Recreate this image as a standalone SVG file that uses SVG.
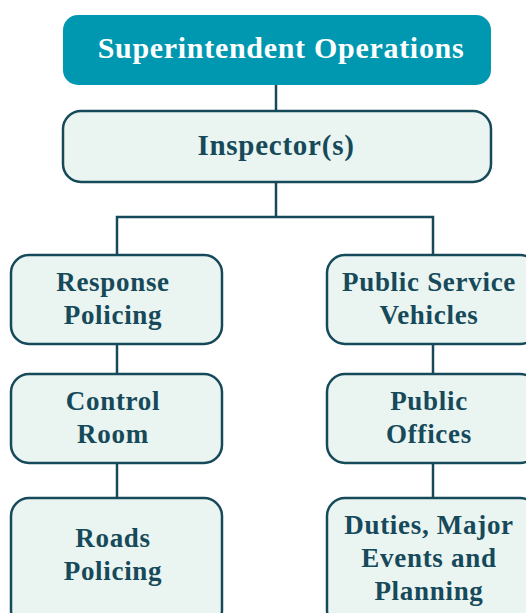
<svg xmlns="http://www.w3.org/2000/svg" width="526" height="613" viewBox="0 0 526 613">
<style>
.box{fill:#eaf4f1;stroke:#164a5a;stroke-width:2.5}
.top{fill:#0098b0}
.t{font-family:"Liberation Serif","Times New Roman",serif;font-weight:bold;fill:#164a5a;text-anchor:middle;font-size:27px;letter-spacing:0.7px}
.tw{font-family:"Liberation Serif","Times New Roman",serif;font-weight:bold;fill:#ffffff;text-anchor:middle;font-size:30px;letter-spacing:0.7px}
.c{stroke:#164a5a;stroke-width:2.5;fill:none}
</style>
<rect width="526" height="613" fill="#ffffff"/>
<g id="connectors">
<line class="c" x1="276" y1="85" x2="276" y2="111"/>
<path class="c" d="M276 182 V217 M117 255 V217 H433 V255"/>
<line class="c" x1="117" y1="344" x2="117" y2="374"/>
<line class="c" x1="117" y1="463" x2="117" y2="498"/>
<line class="c" x1="433" y1="344" x2="433" y2="374"/>
<line class="c" x1="433" y1="463" x2="433" y2="498"/>
</g>
<g id="superintendent">
<rect class="top" x="63" y="15" width="428" height="70" rx="15"/>
<text class="tw" x="281" y="58">Superintendent Operations</text>
</g>
<g id="inspector">
<rect class="box" x="63" y="111" width="428" height="71" rx="18"/>
<text class="t" x="276" y="155" style="font-size:29px;letter-spacing:0.75px">Inspector(s)</text>
</g>
<g id="response">
<rect class="box" x="11" y="255" width="211" height="89" rx="18"/>
<text class="t" x="113" y="291">Response</text>
<text class="t" x="113" y="324">Policing</text>
</g>
<g id="control">
<rect class="box" x="11" y="374" width="211" height="89" rx="18"/>
<text class="t" x="113" y="410">Control</text>
<text class="t" x="113" y="443">Room</text>
</g>
<g id="roads">
<rect class="box" x="11" y="498" width="211" height="130" rx="18"/>
<text class="t" x="113" y="547">Roads</text>
<text class="t" x="113" y="580">Policing</text>
</g>
<g id="psv">
<rect class="box" x="327" y="255" width="211" height="89" rx="18"/>
<text class="t" x="429" y="291">Public Service</text>
<text class="t" x="429" y="324">Vehicles</text>
</g>
<g id="offices">
<rect class="box" x="327" y="374" width="211" height="89" rx="18"/>
<text class="t" x="429" y="410">Public</text>
<text class="t" x="429" y="443">Offices</text>
</g>
<g id="duties">
<rect class="box" x="327" y="498" width="211" height="130" rx="18"/>
<text class="t" x="429" y="534">Duties, Major</text>
<text class="t" x="429" y="567">Events and</text>
<text class="t" x="429" y="600">Planning</text>
</g>
</svg>
